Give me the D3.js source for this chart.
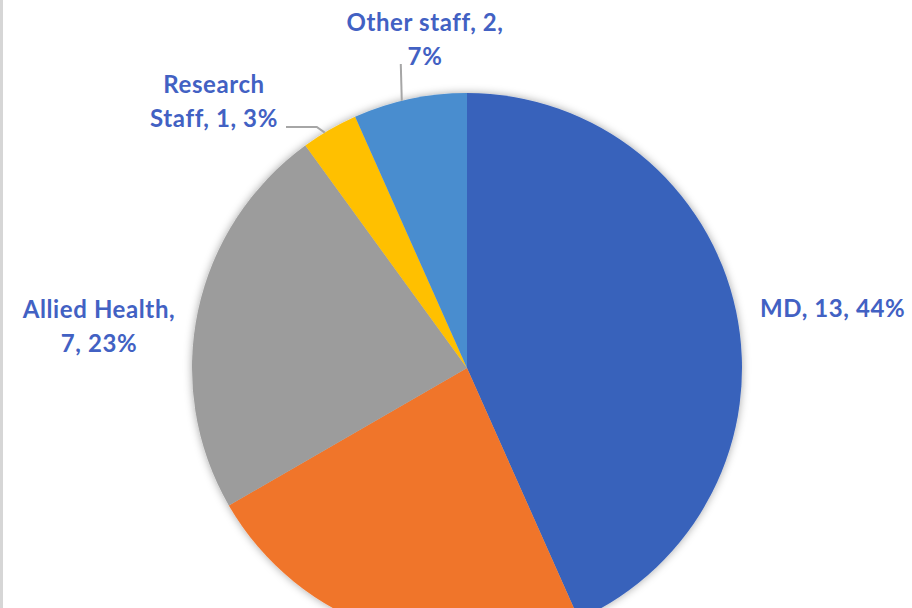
<!DOCTYPE html>
<html>
<head>
<meta charset="utf-8">
<script src="https://cdn.jsdelivr.net/npm/d3@7"></script>
<style>
  html, body { margin: 0; padding: 0; background: #fff; }
  svg { display: block; }
</style>
</head>
<body>
<svg id="chart" width="912" height="608"></svg>
<script>
// data
const categories = ["MD", "Nursing", "Allied Health", "Research Staff", "Other staff"];
const values = [13, 7, 7, 1, 2];
const pctLabels = ["44%", "23%", "23%", "3%", "7%"];
const colors = ["#3762bb", "#f0752b", "#9c9c9c", "#ffc000", "#4a8dcf"];

const width = 912, height = 608;
const cx = 467, cy = 368, r = 275;

// label layout: lines of text + baseline anchor relative to the pie centre
const labelLines = [
  ["MD, 13, 44%"],
  ["Nursing, 7, 23%"],
  ["Allied Health,", "7, 23%"],
  ["Research", "Staff, 1, 3%"],
  ["Other staff, 2,", "7%"]
];
const labelPos = [
  { dx: 293, dy: -51, anchor: "start" },
  { dx: -120, dy: 320, anchor: "middle" },
  { dx: -368, dy: -50, anchor: "middle" },
  { dx: -253, dy: -275, anchor: "middle" },
  { dx: -42, dy: -337, anchor: "middle" }
];

const svg = d3.select("#chart");

// left border line
svg.append("rect").attr("x", 0).attr("y", 0).attr("width", 3).attr("height", height).attr("fill", "#d6d6d6");

// soft shadow
const defs = svg.append("defs");
const f = defs.append("filter").attr("id", "shadow")
  .attr("x", "-10%").attr("y", "-10%").attr("width", "120%").attr("height", "120%");
f.append("feDropShadow").attr("dx", 0).attr("dy", 0).attr("stdDeviation", 4)
  .attr("flood-color", "#000").attr("flood-opacity", 0.35);

const data = categories.map((c, i) => ({ name: c, value: values[i], pct: pctLabels[i], i }));

const pie = d3.pie().sort(null).value(d => d.value);
const arc = d3.arc().innerRadius(0).outerRadius(r);
const arcs = pie(data);

const g = svg.append("g").attr("transform", `translate(${cx},${cy})`);

g.append("g").attr("filter", "url(#shadow)")
  .selectAll("path")
  .data(arcs)
  .enter()
  .append("path")
  .attr("d", arc)
  .attr("fill", d => colors[d.data.i]);

// leader lines for the small slices
const leader = d3.line();
const edge = a => [Math.sin(a) * r, -Math.cos(a) * r];
const mid = d => (d.startAngle + d.endAngle) / 2;

// Research staff
{
  const d = arcs[3];
  const p = edge(mid(d) - 0.02);
  g.append("path")
    .attr("d", leader([p, [p[0] - 8, -241], [-181, -241]]))
    .attr("fill", "none").attr("stroke", "#a6a6a6").attr("stroke-width", 2);
}
// Other staff
{
  const d = arcs[4];
  const p = edge(mid(d) - 0.03);
  g.append("path")
    .attr("d", leader([p, [p[0] - 1, -304]]))
    .attr("fill", "none").attr("stroke", "#a6a6a6").attr("stroke-width", 2);
}

// labels
const lineH = 34;
arcs.forEach((d, k) => {
  const pos = labelPos[k];
  const lines = labelLines[k];
  const t = g.append("text")
    .attr("x", pos.dx)
    .attr("y", pos.dy)
    .attr("text-anchor", pos.anchor)
    .attr("font-family", "Lato, 'Open Sans', sans-serif")
    .attr("font-weight", "bold")
    .attr("font-size", 24)
    .attr("letter-spacing", 0.6)
    .attr("fill", "#4261c3");
  lines.forEach((ln, j) => {
    t.append("tspan").attr("x", pos.dx).attr("dy", j === 0 ? 0 : lineH).text(ln);
  });
});
</script>
</body>
</html>
